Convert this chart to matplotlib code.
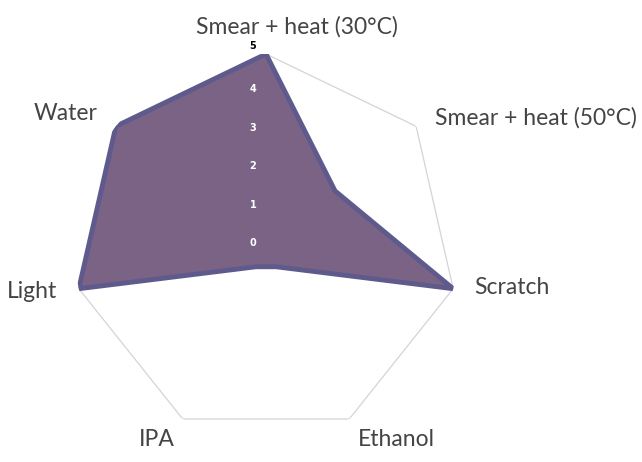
import numpy as np
import matplotlib
matplotlib.use("Agg")
import matplotlib.pyplot as plt
from matplotlib.transforms import offset_copy

categories = ["Smear + heat (30°C)", "Smear + heat (50°C)", "Scratch", "Ethanol",
              "IPA", "Light", "Water"]
values = [5, 2.3, 5, 0.6, 0.6, 5, 5]
tick_values = [0, 1, 2, 3, 4, 5]
r_max = 5

# label centers in pixels (x, y from top)
label_pos = [(297, 27), (536, 118), (512, 287), (396, 440), (157, 440), (32, 291), (66, 113)]

W, H = 642, 462
fig = plt.figure(figsize=(W / 100, H / 100), dpi=100)
cx, cy, R = 266, 246, 192
ax = fig.add_axes([(cx - R) / W, (H - cy - R) / H, 2 * R / W, 2 * R / H], projection="polar")
ax.set_theta_offset(np.pi / 2)
ax.set_theta_direction(-1)
ax.set_ylim(0, r_max)
ax.grid(False)
ax.spines["polar"].set_visible(False)
ax.set_xticks([])
ax.set_yticks([])
ax.patch.set_alpha(0)

n = len(categories)
theta = np.arange(n) * 2 * np.pi / n
tc = np.append(theta, theta[0])

# outer frame
ax.plot(tc, [r_max] * (n + 1), color="#d4d4d4", lw=0.9, zorder=1)

vc = values + [values[0]]
ax.fill(tc, vc, color="#7b6386", zorder=2)
ax.plot(tc, vc, color="#5e5a8c", lw=3.5, solid_joinstyle="miter", zorder=3)

for v in tick_values:
    col = "black" if v == r_max else "white"
    tr = offset_copy(ax.transData, fig=fig, x=-13, y=3 if v < r_max else 8, units="dots")
    ax.text(0, v, str(v), transform=tr, ha="center", va="center", fontsize=7,
            fontweight="bold", color=col, zorder=5, family="DejaVu Sans")

for lab, (x, y) in zip(categories, label_pos):
    fig.text(x / W, 1 - y / H, lab, ha="center", va="center", fontsize=16.5,
             color="#444444", family="Lato", fontweight="normal")

fig.savefig("out.png", dpi=100)
